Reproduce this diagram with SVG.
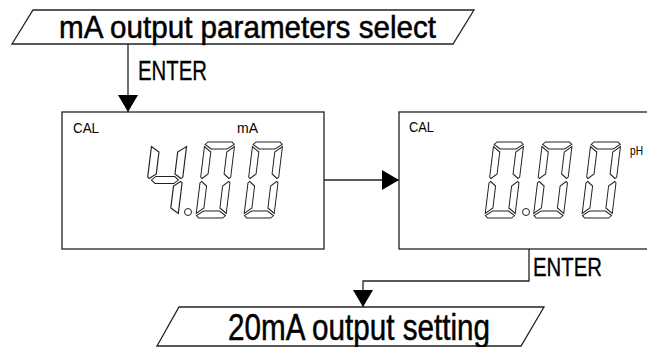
<svg xmlns="http://www.w3.org/2000/svg" xmlns:xlink="http://www.w3.org/1999/xlink" width="647" height="347" viewBox="0 0 647 347">
<style>
.shape{fill:#fff;stroke:#222;stroke-width:1.3}
.line{fill:none;stroke:#222;stroke-width:1.3}
.seg{fill:#fff;stroke:#222;stroke-width:1}
.t{font-family:"Liberation Sans Narrow","Liberation Sans",Arial,sans-serif;fill:#000}
.big{stroke:#000;stroke-width:0.5}
.mid{stroke:#000;stroke-width:0.3}
</style>
<defs>
<marker id="arr" markerUnits="userSpaceOnUse" markerWidth="17" markerHeight="20" refX="17" refY="10" orient="auto">
<path d="M0,0 L17,10 L0,20 Z" fill="#000"/>
</marker>
<polygon id="sa" points="3,0 27,0 29.5,2.5 23,7 7,7 0.5,2.5"/>
<polygon id="sb" points="30,4.5 30,35 28.5,36.5 23,32 23,10"/>
<polygon id="sc" points="30,71.5 30,41 28.5,39.5 23,44 23,66"/>
<polygon id="sd" points="3,76 27,76 29.5,73.5 23,69 7,69 0.5,73.5"/>
<polygon id="se" points="0,71.5 0,41 1.5,39.5 7,44 7,66"/>
<polygon id="sf" points="0,4.5 0,35 1.5,36.5 7,32 7,10"/>
<polygon id="sg" points="3.5,38 7,34.5 23,34.5 26.5,38 23,41.5 7,41.5"/>
<g id="d0" class="seg">
<use xlink:href="#sa"/><use xlink:href="#sb"/><use xlink:href="#sc"/><use xlink:href="#sd"/><use xlink:href="#se"/><use xlink:href="#sf"/>
</g>
<g id="d4" class="seg">
<use xlink:href="#sb"/><use xlink:href="#sc"/><use xlink:href="#sf"/><use xlink:href="#sg"/>
</g>
</defs>

<g id="connectors">
<path class="line" d="M128,44 V112" marker-end="url(#arr)"/>
<path class="line" d="M324,180 H399" marker-end="url(#arr)"/>
<path class="line" d="M529,249 V281 H363 V307" marker-end="url(#arr)"/>
<text class="t mid" x="138" y="80" font-size="27" textLength="69" lengthAdjust="spacingAndGlyphs">ENTER</text>
<text class="t mid" x="533" y="276" font-size="26" textLength="69" lengthAdjust="spacingAndGlyphs">ENTER</text>
</g>

<g id="start">
<polygon class="shape" points="33,10 474,10 453,44 12,44"/>
<text class="t big" x="59" y="38" font-size="32" textLength="377" lengthAdjust="spacingAndGlyphs">mA output parameters select</text>
</g>

<g id="display-ma">
<rect class="shape" x="62" y="112" width="262" height="137"/>
<text class="t" x="73" y="133" font-size="15" textLength="26" lengthAdjust="spacingAndGlyphs">CAL</text>
<text class="t" x="237" y="133" font-size="15" textLength="21" lengthAdjust="spacingAndGlyphs">mA</text>
<use xlink:href="#d4" transform="translate(152,142) skewX(-7) scale(1.17,1)"/>
<circle class="seg" cx="188" cy="212" r="3.5"/>
<use xlink:href="#d0" transform="translate(205,142) skewX(-7)"/>
<use xlink:href="#d0" transform="translate(253,142) skewX(-7)"/>
</g>

<g id="display-ph">
<rect class="shape" x="399" y="112" width="270" height="137"/>
<text class="t" x="409" y="132" font-size="15" textLength="25" lengthAdjust="spacingAndGlyphs">CAL</text>
<text class="t" x="630" y="155" font-size="13" textLength="13" lengthAdjust="spacingAndGlyphs">pH</text>
<use xlink:href="#d0" transform="translate(494,142) skewX(-7)"/>
<circle class="seg" cx="526" cy="212" r="3.5"/>
<use xlink:href="#d0" transform="translate(542.5,142) skewX(-7)"/>
<use xlink:href="#d0" transform="translate(591,142) skewX(-7)"/>
</g>

<g id="end">
<polygon class="shape" points="179,307 544,307 521,346 157,346"/>
<text class="t big" x="228" y="340" font-size="36" textLength="262" lengthAdjust="spacingAndGlyphs">20mA output setting</text>
</g>
</svg>
